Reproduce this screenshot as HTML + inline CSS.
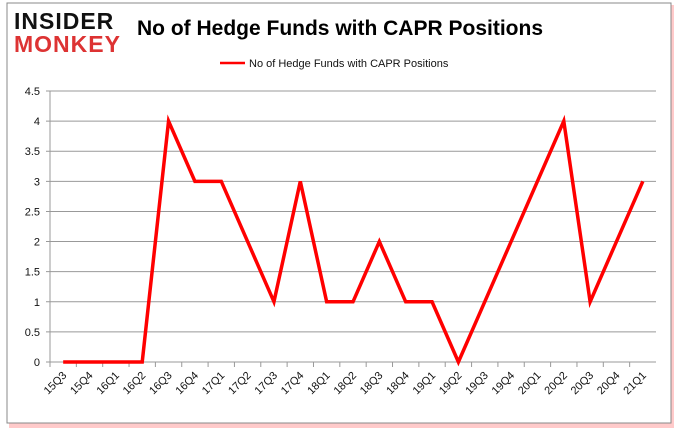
<!DOCTYPE html>
<html><head><meta charset="utf-8"><style>
body{margin:0;width:680px;height:433px;background:#fff;overflow:hidden;font-family:"Liberation Sans",sans-serif}
</style></head><body>
<svg width="680" height="433" xmlns="http://www.w3.org/2000/svg">
<rect x="9" y="5" width="665" height="423" fill="#f66" opacity="0.35"/>
<rect x="7" y="3" width="664" height="420" fill="#fff" stroke="#888" stroke-width="1"/>
<text x="14" y="29" font-size="23" font-weight="bold" fill="#111" font-family="Liberation Sans" letter-spacing="1">INSIDER</text>
<text x="14" y="52" font-size="23" font-weight="bold" fill="#d33" font-family="Liberation Sans" letter-spacing="1">MONKEY</text>
<text x="340" y="35" font-size="21" font-weight="bold" text-anchor="middle" fill="#000">No of Hedge Funds with CAPR Positions</text>
<line x1="220" y1="63" x2="245" y2="63" stroke="red" stroke-width="2.5"/>
<text x="249" y="67" font-size="11" fill="#111">No of Hedge Funds with CAPR Positions</text>
<g id="grid"></g><g id="axes"></g><g id="series"></g>
</svg>
<script>
const categories=["15Q3","15Q4","16Q1","16Q2","16Q3","16Q4","17Q1","17Q2","17Q3","17Q4","18Q1","18Q2","18Q3","18Q4","19Q1","19Q2","19Q3","19Q4","20Q1","20Q2","20Q3","20Q4","21Q1"];
const values=[0,0,0,0,4,3,3,2,1,3,1,1,2,1,1,0,1,2,3,4,1,2,3];
const yTicks=[0,0.5,1,1.5,2,2.5,3,3.5,4,4.5];
const NS="http://www.w3.org/2000/svg";
const left=50,right=656,y0=362,yTop=91,yMax=4.5;
const step=(right-left)/categories.length;
const xs=i=>left+step*(i+0.5);
const ys=v=>y0-(v/yMax)*(y0-yTop);
function mk(t,a,p){const e=document.createElementNS(NS,t);for(const k in a)e.setAttribute(k,a[k]);p.appendChild(e);return e;}
const grid=document.getElementById('grid'),axes=document.getElementById('axes'),series=document.getElementById('series');
yTicks.forEach(v=>{
 const l=mk('line',{x1:left-4,x2:right,y1:ys(v),y2:ys(v),stroke:'#999','stroke-width':1},grid);
 
 
 const t=mk('text',{x:left-10,y:ys(v)+4,'font-size':11,'text-anchor':'end',fill:'#111'},axes);
 t.textContent=String(v);
 
 
});
const ax=mk('line',{x1:left,x2:left,y1:yTop,y2:y0+4,stroke:'#999'},axes);


categories.forEach((c,i)=>{
 const tx=left+step*i;
 const tk=mk('line',{x1:tx,x2:tx,y1:y0,y2:y0+5,stroke:'#999'},axes);
 
 
 const cx=xs(i)+4,cy=y0+14;
 const t=mk('text',{x:cx,y:cy,'font-size':11,'text-anchor':'end',fill:'#111',transform:`rotate(-45 ${cx} ${cy})`},axes);
 t.textContent=c;
 
 
});
const p=mk('polyline',{points:values.map((v,i)=>xs(i)+','+ys(v)).join(' '),fill:'none',stroke:'red','stroke-width':3.5,'stroke-linejoin':'miter'},series);


</script>
</body></html>
